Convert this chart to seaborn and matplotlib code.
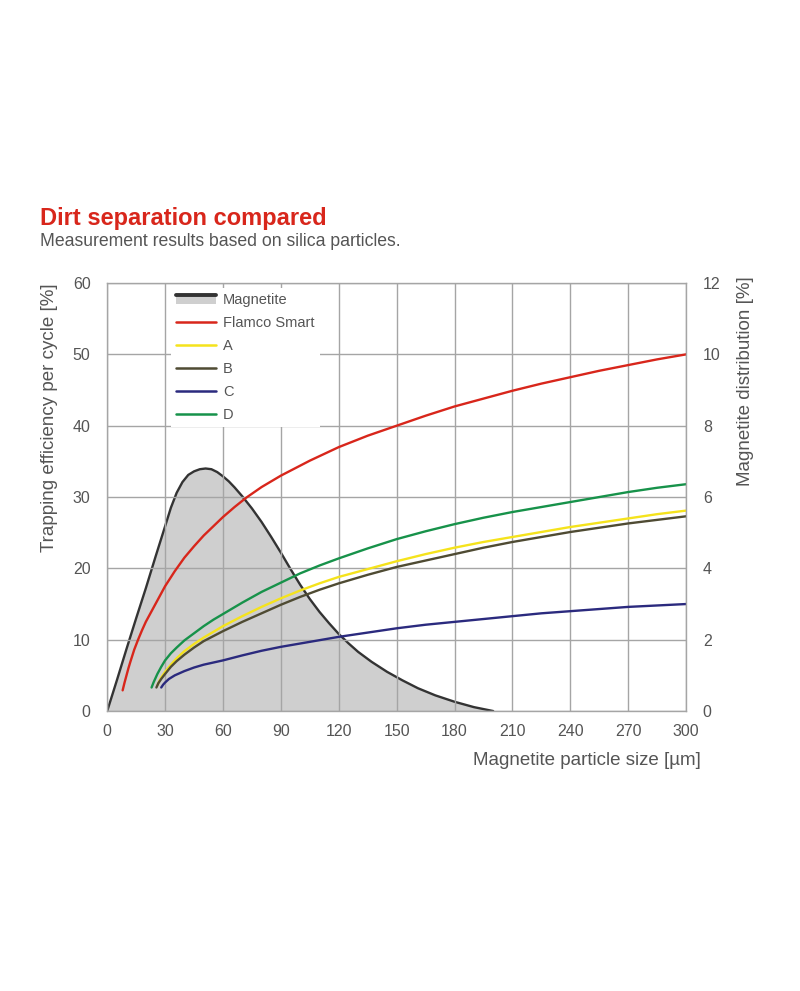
import pandas as pd
import matplotlib.pyplot as plt
import seaborn as sns
from matplotlib import font_manager
from matplotlib.legend_handler import HandlerBase
from matplotlib.lines import Line2D
from matplotlib.patches import Patch, Rectangle

# magnetite distribution [%] (right axis)
mag_x = [0, 5, 10, 15, 20, 25, 30, 33, 36, 39, 42, 45, 48, 51, 54, 57, 60, 63, 66, 70, 75, 80, 85, 90,
         95, 100, 105, 110, 115, 120, 125, 130, 137, 145, 153, 161, 170, 180, 190, 200]
mag_y = [0, 0.86, 1.74, 2.6, 3.44, 4.32, 5.18, 5.7, 6.12, 6.42, 6.62, 6.72, 6.78, 6.8, 6.78, 6.7, 6.58,
         6.44, 6.27, 6.02, 5.68, 5.3, 4.88, 4.44, 3.98, 3.54, 3.14, 2.78, 2.46, 2.16, 1.9, 1.66, 1.38,
         1.1, 0.86, 0.64, 0.44, 0.26, 0.11, 0]

# trapping efficiency per cycle [%] (left axis)
smart_x = [8, 9, 10, 11, 12, 14, 16, 18, 20, 23, 26, 30, 35, 40, 45, 50, 55, 60, 66, 72, 80, 90, 105,
           120, 135, 150, 165, 180, 195, 210, 225, 240, 255, 270, 285, 300]
smart_y = [2.9, 4.0, 5.0, 6.0, 6.9, 8.6, 10.0, 11.3, 12.5, 14.0, 15.5, 17.5, 19.6, 21.5, 23.1, 24.6,
           25.9, 27.2, 28.6, 29.9, 31.4, 33.0, 35.1, 37.0, 38.6, 40.0, 41.4, 42.7, 43.8, 44.9, 45.9,
           46.8, 47.7, 48.5, 49.3, 50.0]

a_x = [26, 27, 28, 30, 33, 36, 40, 45, 50, 55, 60, 70, 80, 90, 100, 110, 120, 135, 150, 165, 180, 195,
       210, 225, 240, 255, 270, 285, 300]
a_y = [3.6, 4.2, 4.7, 5.5, 6.5, 7.4, 8.4, 9.4, 10.3, 11.1, 11.9, 13.3, 14.6, 15.8, 16.9, 17.9, 18.8,
       19.9, 21.0, 22.0, 22.9, 23.7, 24.4, 25.1, 25.8, 26.4, 27.0, 27.6, 28.1]

b_x = [25.5, 26.5, 28, 30, 33, 36, 40, 45, 50, 55, 60, 70, 80, 90, 100, 110, 120, 135, 150, 165, 180,
       195, 210, 225, 240, 255, 270, 285, 300]
b_y = [3.3, 3.9, 4.5, 5.2, 6.2, 7.0, 7.9, 8.9, 9.8, 10.5, 11.2, 12.5, 13.7, 14.9, 16.0, 17.0, 17.9,
       19.1, 20.2, 21.1, 22.0, 22.9, 23.7, 24.4, 25.1, 25.7, 26.3, 26.8, 27.3]

c_x = [28, 29, 30, 32, 35, 40, 45, 50, 55, 60, 70, 80, 90, 105, 120, 135, 150, 165, 180, 195, 210, 225,
       240, 255, 270, 285, 300]
c_y = [3.3, 3.7, 4.0, 4.5, 5.0, 5.6, 6.1, 6.5, 6.8, 7.1, 7.8, 8.45, 9.0, 9.7, 10.4, 11.0, 11.6, 12.1,
       12.5, 12.9, 13.3, 13.7, 14.0, 14.3, 14.6, 14.8, 15.0]

d_x = [23, 24, 25, 26, 28, 30, 33, 36, 40, 45, 50, 55, 60, 70, 80, 90, 100, 110, 120, 135, 150, 165,
       180, 195, 210, 225, 240, 255, 270, 285, 300]
d_y = [3.3, 4.0, 4.6, 5.2, 6.2, 7.1, 8.1, 8.9, 9.9, 10.9, 11.9, 12.8, 13.6, 15.2, 16.7, 18.0, 19.3,
       20.4, 21.4, 22.8, 24.1, 25.2, 26.2, 27.1, 27.9, 28.6, 29.3, 30.0, 30.7, 31.3, 31.8]

names = ["Flamco Smart", "A", "B", "C", "D"]
colors = ["#d8261b", "#f5e31c", "#4f4b33", "#2b2a7e", "#17924a"]

installed = {f.name for f in font_manager.fontManager.ttflist}
narrow = "Liberation Sans Narrow" if "Liberation Sans Narrow" in installed else "Liberation Sans"

sns.set_style("white")
plt.rcParams["font.family"] = [narrow, "DejaVu Sans"]
text_grey = "#555555"
grid_grey = "#a5a5a5"
fill_grey = "#cfcfcf"


class MagnetiteHandler(HandlerBase):
    # grey block with a dark bar along its top, like the area + outline in the plot
    def create_artists(self, legend, orig_handle, xdescent, ydescent, width, height, fontsize, trans):
        x0, y0 = -xdescent, -ydescent
        rect = Rectangle((x0, y0), width, height * 0.85, facecolor=fill_grey, edgecolor="none",
                         transform=trans)
        bar = Line2D([x0, x0 + width], [y0 + height * 0.9] * 2, color="#333333", lw=2.8,
                     transform=trans)
        return [rect, bar]


frames = []
for name, xs, ys in zip(names, [smart_x, a_x, b_x, c_x, d_x], [smart_y, a_y, b_y, c_y, d_y]):
    frames.append(pd.DataFrame({"size": xs, "eff": ys, "series": name}))
df = pd.concat(frames, ignore_index=True)
mag = pd.DataFrame({"size": mag_x, "dist": mag_y})

fig = plt.figure(figsize=(8, 9.91), dpi=100)
ax = fig.add_axes([0.134, 0.2825, 0.7237, 0.4319])
ax2 = ax.twinx()

# magnetite area on the right axis, behind the curves
ax2.fill_between(mag["size"], mag["dist"], color=fill_grey, lw=0)
sns.lineplot(data=mag, x="size", y="dist", ax=ax2, color="#333333", lw=1.7, sort=False,
             estimator=None, solid_joinstyle="round")
ax.set_zorder(ax2.get_zorder() + 1)
ax.patch.set_visible(False)

sns.lineplot(data=df, x="size", y="eff", hue="series", palette=dict(zip(names, colors)),
             ax=ax, lw=1.7, sort=False, estimator=None, legend=False, solid_joinstyle="round")

ax.set_xlim(0, 300)
ax.set_ylim(0, 60)
ax2.set_ylim(0, 12)
ax.set_xticks(range(0, 301, 30))
ax.set_yticks(range(0, 61, 10))
ax2.set_yticks(range(0, 13, 2))
ax.grid(True, color=grid_grey, lw=1)
for s in ax.spines.values():
    s.set_color(grid_grey)
    s.set_linewidth(1)
for s in ax2.spines.values():
    s.set_visible(False)
for a in (ax, ax2):
    a.tick_params(length=0, labelsize=11.5, labelcolor=text_grey)
ax.tick_params(axis="x", pad=9)
ax.tick_params(axis="y", pad=12)
ax2.tick_params(axis="y", pad=12)

ax.set_ylabel("Trapping efficiency per cycle [%]", fontsize=13.5, color=text_grey, loc="top")
ax.yaxis.set_label_coords(-0.085, 1.0)
ax2.set_ylabel("Magnetite distribution [%]", fontsize=13.5, color=text_grey, loc="top")
ax2.yaxis.set_label_coords(1.088, 1.015)
ax.set_xlabel("Magnetite particle size [µm]", fontsize=13.5, color=text_grey, ha="right")
ax.xaxis.set_label_coords(1.025, -0.095)

mag_handle = Patch(facecolor=fill_grey)
handles = [mag_handle] + [Line2D([], [], color=c, lw=1.8) for c in colors]
leg = ax.legend(handles, ["Magnetite"] + names, loc="upper left", bbox_to_anchor=(0.097, 1.006),
                fontsize=10.5, handlelength=2.75, handletextpad=0.5, labelspacing=0.62,
                frameon=True, framealpha=1, facecolor="white", edgecolor="none", borderpad=0.35,
                fancybox=False, handler_map={mag_handle: MagnetiteHandler()})
for t in leg.get_texts():
    t.set_color(text_grey)

fig.text(0.05, 1 - 218 / 991, "Dirt separation compared", fontsize=17, fontweight="bold",
         color="#d8261b", family=["Liberation Sans", "DejaVu Sans"], va="center")
fig.text(0.05, 1 - 242 / 991, "Measurement results based on silica particles.", fontsize=12.7,
         color=text_grey, va="center")

fig.savefig("out.png", dpi=100)
